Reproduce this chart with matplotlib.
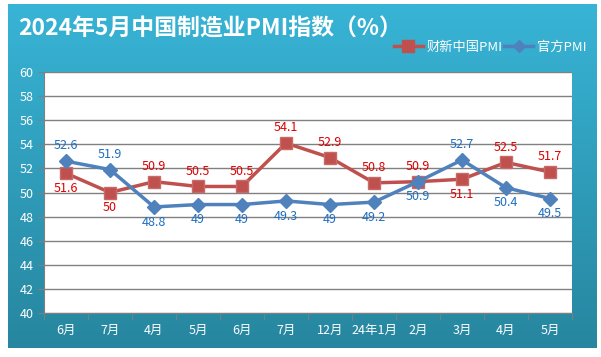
import numpy as np
import matplotlib
matplotlib.use("Agg")
import matplotlib.pyplot as plt
from matplotlib.patches import Rectangle
from matplotlib.lines import Line2D

plt.rcParams['font.family'] = ['Noto Sans CJK SC', 'DejaVu Sans']

months = ["6月", "7月", "4月", "5月", "6月", "7月", "12月", "24年1月", "2月", "3月", "4月", "5月"]
caixin = [51.6, 50, 50.9, 50.5, 50.5, 54.1, 52.9, 50.8, 50.9, 51.1, 52.5, 51.7]
official = [52.6, 51.9, 48.8, 49, 49, 49.3, 49, 49.2, 50.9, 52.7, 50.4, 49.5]
# label above (+1) or below (-1) the point
caixin_pos = [-1, -1, 1, 1, 1, 1, 1, 1, 1, -1, 1, 1]
official_pos = [1, 1, -1, -1, -1, -1, -1, -1, -1, 1, -1, -1]

W, H = 601, 357
fig = plt.figure(figsize=(W/100, H/100), dpi=100)
fig.patch.set_facecolor("white")

# shadow + gradient panel
px0, py0, px1, py1 = 8, 4, 597, 348
fig.patches.append(Rectangle((px0+3, 1-(py1+4)/H), (px1-px0)/W, (py1-py0)/H,
                             transform=fig.transFigure, facecolor="#c8c8c8",
                             edgecolor="none", zorder=0))
bg = fig.add_axes([px0/W, 1-py1/H, (px1-px0)/W, (py1-py0)/H], zorder=0.5)
grad = np.linspace(0, 1, 256).reshape(-1, 1)
top = np.array([0x38, 0xb4, 0xd6])/255
bot = np.array([0x27, 0x86, 0x9f])/255
img = top*(1-grad)[..., None] + bot*grad[..., None]
bg.imshow(img.reshape(256, 1, 3), aspect="auto", extent=[0, 1, 0, 1])
bg.set_axis_off()

# plot area
ax0, ay0, ax1, ay1 = 44, 72, 572, 313
ax = fig.add_axes([ax0/W, 1-ay1/H, (ax1-ax0)/W, (ay1-ay0)/H], zorder=1)
ax.set_facecolor("white")
x = np.arange(len(months))
ax.set_xlim(-0.5, len(months)-0.5)
ax.set_ylim(40, 60)
ax.set_yticks(np.arange(40, 61, 2))
ax.yaxis.grid(True, color="#808080", linewidth=1)
ax.set_axisbelow(True)
for s in ["top", "right"]:
    ax.spines[s].set_visible(False)
for s in ["left", "bottom"]:
    ax.spines[s].set_color("#808080")
ax.set_xticks(x)
ax.set_xticklabels(months)
ax.set_xticks(np.arange(-0.5, len(months), 1), minor=True)
ax.tick_params(axis="x", which="major", length=0, colors="white", labelsize=9, pad=8)
ax.tick_params(axis="x", which="minor", length=5, color="#808080")
ax.tick_params(axis="y", length=4, color="#808080", colors="white", labelsize=9)
for t in ax.get_yticklabels():
    t.set_color("white")

red_line, blue_line = "#c0504d", "#4f81bd"
ax.plot(x, caixin, color=red_line, linewidth=2.5, marker="s", markersize=9,
        markerfacecolor=red_line, markeredgecolor="#c86b68", zorder=3)
ax.plot(x, official, color=blue_line, linewidth=2.5, marker="D", markersize=7,
        markerfacecolor=blue_line, markeredgecolor=blue_line, zorder=4)

for xi, v, p in zip(x, caixin, caixin_pos):
    ax.annotate(f"{v:g}", (xi, v), xytext=(0, 11*p), textcoords="offset points",
                ha="center", va="center", color="#e00000", fontsize=9, zorder=5)
for xi, v, p in zip(x, official, official_pos):
    ax.annotate(f"{v:g}", (xi, v), xytext=(0, 11*p), textcoords="offset points",
                ha="center", va="center", color="#1f6fc0", fontsize=9, zorder=5)

fig.text(18/W, 1-29/H, "2024年5月中国制造业PMI指数（%）", color="white",
         fontsize=16.5, fontweight="bold", ha="left", va="center", zorder=2)

handles = [Line2D([], [], color=red_line, linewidth=2.5, marker="s", markersize=8),
           Line2D([], [], color=blue_line, linewidth=2.5, marker="D", markersize=6)]
leg = fig.legend(handles, ["财新中国PMI", "官方PMI"], loc="center right",
                 bbox_to_anchor=(592/W, 1-47/H), ncol=2, frameon=False,
                 fontsize=9.5, handlelength=2.2, columnspacing=0.1,
                 handletextpad=0.3, labelcolor="white", borderaxespad=0)
leg.set_zorder(3)

fig.savefig("out.png", dpi=100, facecolor=fig.get_facecolor())
